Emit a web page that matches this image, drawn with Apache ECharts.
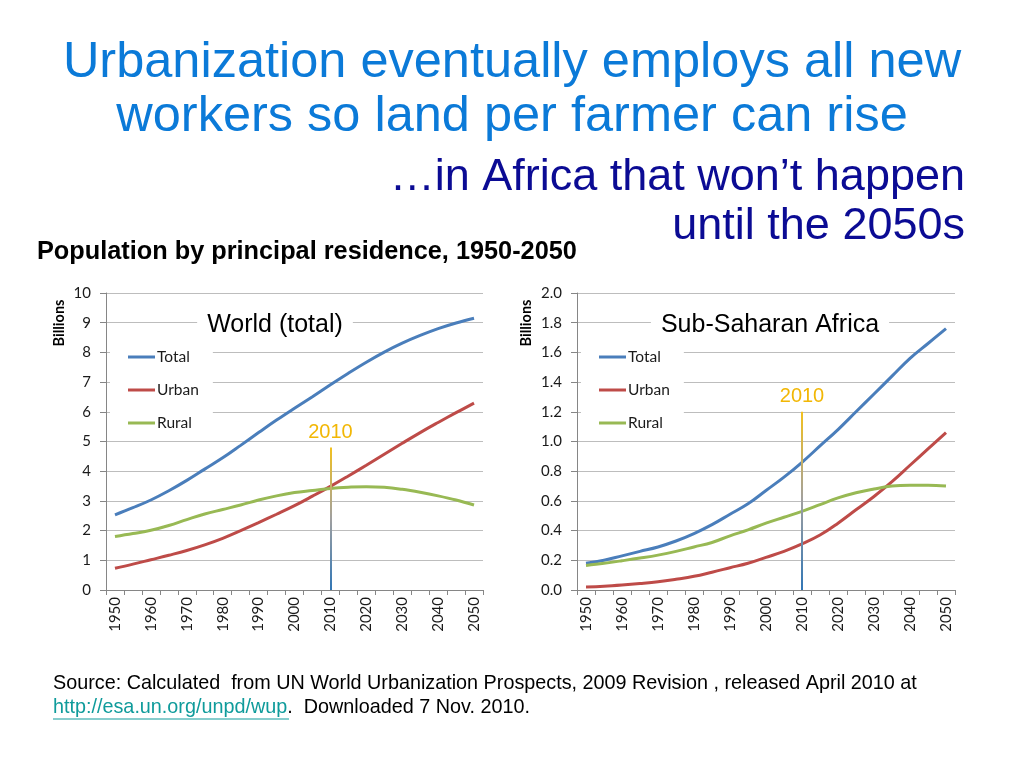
<!DOCTYPE html>
<html>
<head>
<meta charset="utf-8">
<script src="https://cdn.jsdelivr.net/npm/echarts@6/dist/echarts.min.js"></script>
<style>html,body{margin:0;padding:0;background:#fff}#c{width:1024px;height:768px}</style>
</head>
<body>
<div id="c"></div>
<script>
// ---- data ----
const years = ['1950','1955','1960','1965','1970','1975','1980','1985','1990','1995','2000','2005','2010','2015','2020','2025','2030','2035','2040','2045','2050'];
const worldTotal = [2.53,2.77,3.03,3.34,3.69,4.07,4.45,4.87,5.30,5.72,6.12,6.51,6.91,7.30,7.67,8.01,8.31,8.57,8.80,8.99,9.15];
const worldUrban = [0.73,0.87,1.02,1.17,1.33,1.52,1.74,2.00,2.27,2.55,2.84,3.16,3.49,3.84,4.20,4.57,4.94,5.30,5.64,5.97,6.29];
const worldRural = [1.80,1.90,2.01,2.17,2.37,2.56,2.71,2.86,3.03,3.17,3.28,3.35,3.42,3.46,3.48,3.46,3.39,3.29,3.17,3.03,2.86];
const ssaTotal = [0.18,0.20,0.23,0.26,0.29,0.33,0.38,0.44,0.51,0.58,0.67,0.76,0.86,0.97,1.08,1.20,1.32,1.44,1.56,1.66,1.76];
const ssaUrban = [0.02,0.025,0.033,0.043,0.055,0.072,0.092,0.12,0.15,0.18,0.22,0.26,0.31,0.37,0.45,0.54,0.63,0.73,0.84,0.95,1.06];
const ssaRural = [0.165,0.18,0.197,0.215,0.235,0.26,0.29,0.32,0.365,0.405,0.45,0.49,0.53,0.575,0.62,0.655,0.68,0.70,0.705,0.705,0.70];
const seriesNames = ['Total','Urban','Rural'];
const markerYear = '2010';
const worldMarkerTop = 4.8;
const ssaMarkerTop = 1.2;
const worldYTicks = {min:0, max:10, interval:1};
const ssaYTicks = {min:0, max:2, interval:0.2};

const colors = ['#4a7ebb','#be4b48','#98b954'];
const chart = echarts.init(document.getElementById('c'));
const lblFont = 'Lato, "Open Sans", sans-serif';

function xAxis(gi){
  return {
    type:'category', gridIndex:gi, data:years, boundaryGap:true,
    axisLine:{lineStyle:{color:'#868686', width:1}},
    axisTick:{show:true, interval:0, length:5, lineStyle:{color:'#868686'}},
    axisLabel:{interval:1, rotate:90, margin:7, color:'#1a1a1a', fontSize:15, fontFamily:lblFont},
    splitLine:{show:false}
  };
}
function yAxis(gi, t, dec){
  return {
    type:'value', gridIndex:gi, min:t.min, max:t.max, interval:t.interval,
    axisLine:{show:true, lineStyle:{color:'#868686'}},
    axisTick:{show:true, inside:false, length:6, lineStyle:{color:'#868686'}},
    axisLabel:{margin:15, color:'#1a1a1a', fontSize:15, fontFamily:lblFont,
      formatter: v => dec ? v.toFixed(1) : String(v)},
    splitLine:{show:true, lineStyle:{color:'#bdbdbd', width:1}}
  };
}
function markerGradient(){
  return new echarts.graphic.LinearGradient(0,0,0,1,[
    {offset:0, color:'#f5c21b'},{offset:0.5,color:'#a0a0a0'},{offset:1, color:'#2e75b6'}
  ]);
}
function makeSeries(gi, arrs, top){
  return arrs.map((d,i)=>{
    const s = {
      name:seriesNames[i], type:'line', xAxisIndex:gi, yAxisIndex:gi, data:d,
      smooth:0.4, symbol:'none', lineStyle:{width:3, color:colors[i]}, itemStyle:{color:colors[i]},
      z:2
    };
    if(i===0){
      s.markLine = {
        silent:true, symbol:['none','none'], z:5,
        lineStyle:{type:'solid', width:2, color:markerGradient()},
        label:{show:true, position:'end', formatter:markerYear, color:'#f2b705', fontSize:20,
          fontFamily:'"Liberation Sans", Arial, sans-serif', distance:5},
        data:[[{coord:[markerYear,0]},{coord:[markerYear,top]}]]
      };
    }
    return s;
  });
}
function legend(left){
  return {
    data:seriesNames, orient:'vertical', left:left, top:341,
    backgroundColor:'#fff', padding:[8,14,8,18],
    icon:'rect', itemWidth:27, itemHeight:3, itemGap:17,
    textStyle:{fontSize:15.5, color:'#1a1a1a', fontFamily:lblFont, padding:[0,0,0,-3]},
    selectedMode:false
  };
}
const titleFont = '"Liberation Sans", Arial, sans-serif';
function txt(text, x, y, size, color, align, weight, extra){
  return {type:'text', z:100, style:Object.assign({
    text:text, x:x, y:y, fill:color, align:align||'left', verticalAlign:'middle',
    font:(weight||'normal')+' '+size+'px '+titleFont
  }, extra||{})};
}

chart.setOption({
  animation:false,
  grid:[
    {left:106, top:293, width:377, height:297},
    {left:577, top:293, width:378, height:297}
  ],
  xAxis:[xAxis(0), xAxis(1)],
  yAxis:[yAxis(0, worldYTicks, false), yAxis(1, ssaYTicks, true)],
  legend:[legend(110), legend(581)],
  series:[].concat(makeSeries(0,[worldTotal,worldUrban,worldRural],worldMarkerTop),
                   makeSeries(1,[ssaTotal,ssaUrban,ssaRural],ssaMarkerTop)),
  graphic:[
    txt('Urbanization eventually employs all new', 512, 63, 50.5, '#0b7ad8', 'center'),
    txt('workers so land per farmer can rise', 512, 117, 50.5, '#0b7ad8', 'center'),
    txt('\u2026in Africa that won\u2019t happen', 965, 178, 45, '#0b0b94', 'right'),
    txt('until the 2050s', 965, 227, 45, '#0b0b94', 'right'),
    txt('Population by principal residence, 1950-2050', 37, 252, 25.3, '#000', 'left', 'bold'),
    txt('World (total)', 275, 325, 25, '#000', 'center', 'normal', {backgroundColor:'#fff', padding:[3,10]}),
    txt('Sub-Saharan Africa', 770, 325, 25, '#000', 'center', 'normal', {backgroundColor:'#fff', padding:[3,10]}),
    {type:'text', z:100, x:59, y:323, rotation:Math.PI/2, style:{text:'Billions', fill:'#000', align:'center', verticalAlign:'middle', font:'bold 14.5px '+lblFont}},
    {type:'text', z:100, x:526, y:323, rotation:Math.PI/2, style:{text:'Billions', fill:'#000', align:'center', verticalAlign:'middle', font:'bold 14.5px '+lblFont}},
    txt('Source: Calculated  from UN World Urbanization Prospects, 2009 Revision , released April 2010 at', 53, 684, 19.8, '#000', 'left'),
    {type:'text', z:100, style:{x:53, y:708, verticalAlign:'middle', text:'{a|http://esa.un.org/unpd/wup}{b|.  Downloaded 7 Nov. 2010.}',
      rich:{a:{fill:'#0f9b9b', font:'19.8px '+titleFont}, b:{fill:'#000', font:'19.8px '+titleFont}}}},
    {type:'line', z:100, shape:{x1:53, y1:719, x2:289, y2:719}, style:{stroke:'#0f9b9b', lineWidth:1}}
  ]
});
</script>
</body>
</html>
